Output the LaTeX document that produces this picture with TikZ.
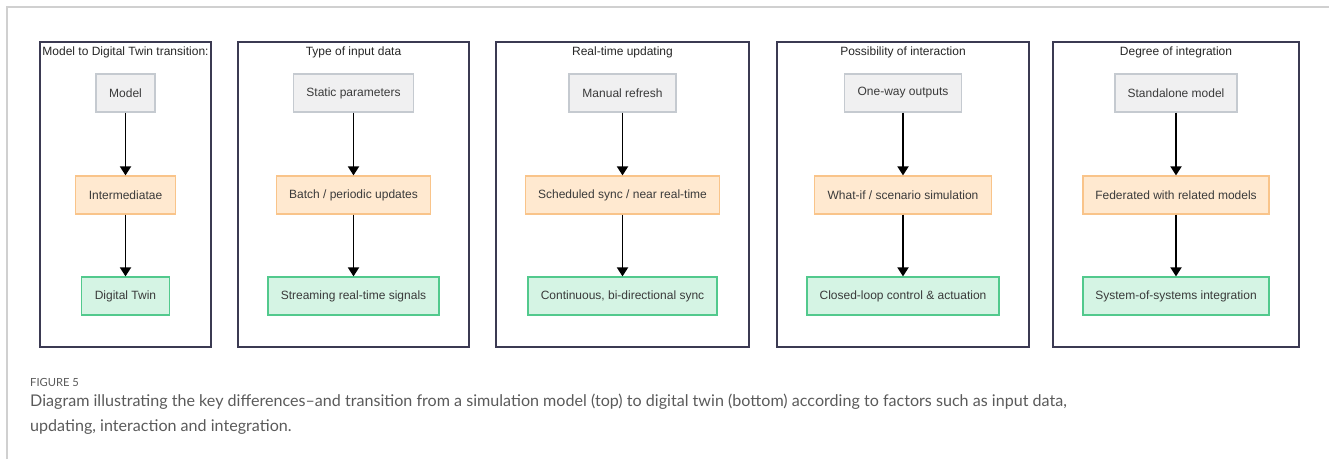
\documentclass[tikz,border=0pt]{standalone}
\usepackage{fontspec}
\setmainfont{Liberation Sans}
\newfontfamily\capfont{Lato}
\usetikzlibrary{arrows.meta}
\definecolor{panelline}{HTML}{3B3A52}
\definecolor{grayfill}{HTML}{F0F0F1}
\definecolor{grayline}{HTML}{C5CAD0}
\definecolor{orangefill}{HTML}{FFE9D0}
\definecolor{orangeline}{HTML}{F9C48A}
\definecolor{greenfill}{HTML}{D5F4E4}
\definecolor{greenline}{HTML}{52C98D}
\definecolor{boxtext}{HTML}{3A3A3A}
\definecolor{framegray}{HTML}{D0D0D0}
\definecolor{captext}{HTML}{5A5A5A}
\tikzset{
  panel/.style={draw=panelline, line width=1.7pt, fill=white},
  ptitle/.style={font=\fontsize{12}{14}\selectfont, text=black!85, inner sep=0pt},
  stagebox/.style={minimum height=38pt, inner sep=0pt, line width=1.2pt,
    font=\fontsize{12}{14}\selectfont, text=boxtext},
  startbox/.style={stagebox, draw=grayline, fill=grayfill},
  midbox/.style={stagebox, draw=orangeline, fill=orangefill},
  endbox/.style={stagebox, draw=greenline, fill=greenfill},
  flow/.style={draw=black, line width=1.8pt, -{Triangle[length=9pt,width=11pt]}},
}
\begin{document}
\begin{tikzpicture}[x=1pt, y=-1pt]
\useasboundingbox (0,0) rectangle (1329,459);
% page frame
\draw[framegray, line width=1.4pt] (7,459) -- (7,7) -- (1329,7);

% panels
\draw[panel] (40,42) rectangle (211,347);
\draw[panel] (238,42) rectangle (469,347);
\draw[panel] (496,42) rectangle (749,347);
\draw[panel] (777,42) rectangle (1029,347);
\draw[panel] (1053,42) rectangle (1299,347);

% panel titles
\node[ptitle] (t1) at (125.5,52) {Model to Digital Twin transition:};
\node[ptitle] (t2) at (353.5,52) {Type of input data};
\node[ptitle] (t3) at (622.5,52) {Real-time updating};
\node[ptitle] (t4) at (903,52) {Possibility of interaction};
\node[ptitle] (t5) at (1176,52) {Degree of integration};

% column 1
\node[startbox, minimum width=59pt]  (a1) at (125.5,93) {Model};
\node[midbox,   minimum width=100pt] (a2) at (125.5,195) {Intermediatae};
\node[endbox,   minimum width=88pt]  (a3) at (125.5,296) {Digital Twin};
% column 2
\node[startbox, minimum width=120pt] (b1) at (353.5,93) {Static parameters};
\node[midbox,   minimum width=154pt] (b2) at (353.5,195) {Batch / periodic updates};
\node[endbox,   minimum width=171pt] (b3) at (353.5,296) {Streaming real-time signals};
% column 3
\node[startbox, minimum width=107pt] (c1) at (622.5,93) {Manual refresh};
\node[midbox,   minimum width=194pt] (c2) at (622.5,195) {Scheduled sync / near real-time};
\node[endbox,   minimum width=189pt] (c3) at (622.5,296) {Continuous, bi-directional sync};
% column 4
\node[startbox, minimum width=117pt] (d1) at (903,93) {One-way outputs};
\node[midbox,   minimum width=177pt] (d2) at (903,195) {What-if / scenario simulation};
\node[endbox,   minimum width=192pt] (d3) at (903,296) {Closed-loop control \& actuation};
% column 5
\node[startbox, minimum width=122pt] (e1) at (1176,93) {Standalone model};
\node[midbox,   minimum width=186pt] (e2) at (1176,195) {Federated with related models};
\node[endbox,   minimum width=186pt] (e3) at (1176,296) {System-of-systems integration};

% transitions
\foreach \c in {a,b,c,d,e}{
  \draw[flow] (\c1.south) -- (\c2.north);
  \draw[flow] (\c2.south) -- (\c3.north);
}

% caption
\node[anchor=base west, inner sep=0pt, text=captext,
      font=\capfont\fontsize{11.2}{13}\selectfont] (fig) at (30,386.5) {FIGURE 5};
\node[anchor=base west, inner sep=0pt, text=captext,
      font=\capfont\fontsize{16.1}{18}\selectfont] (cap1) at (30,406)
  {Diagram illustrating the key differences\textendash and transition from a simulation model (top) to digital twin (bottom) according to factors such as input data,};
\node[anchor=base west, inner sep=0pt, text=captext,
      font=\capfont\fontsize{16.1}{18}\selectfont] (cap2) at (30,431)
  {updating, interaction and integration.};
\end{tikzpicture}
\end{document}
